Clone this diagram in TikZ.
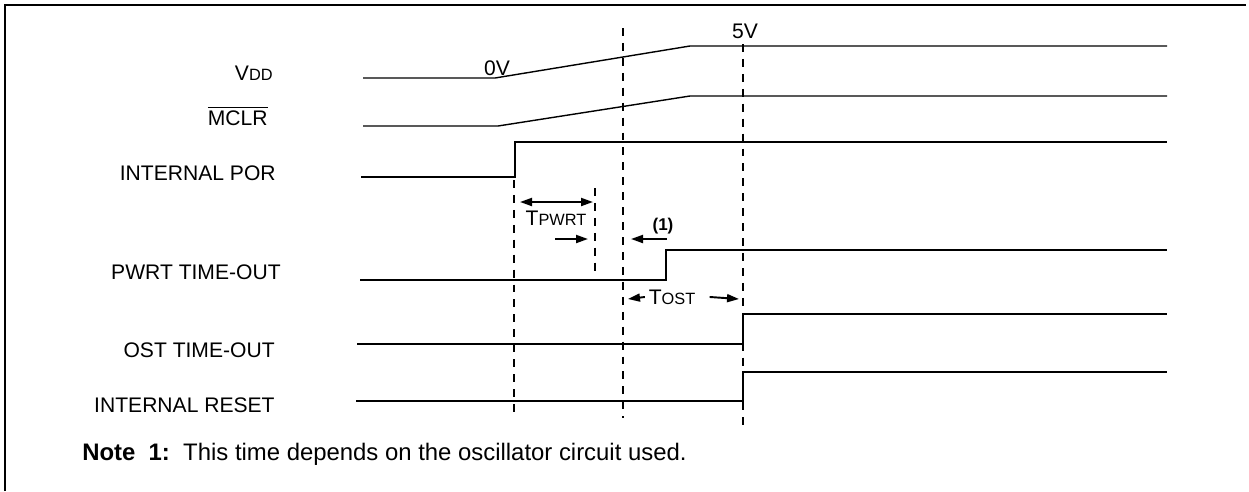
\documentclass[tikz,border=0pt]{standalone}
\usepackage{fontspec}
\setmainfont{Liberation Sans}
\usetikzlibrary{arrows.meta}
\tikzset{
  frame/.style={line width=1.4pt},
  sig/.style={line width=1.1pt,line join=miter},
  ramp/.style={line width=0.8pt},
  marker/.style={line width=1.2pt,dash pattern=on 4.5pt off 4pt},
  lbl/.style={font=\fontsize{12}{14}\selectfont,anchor=base east,inner sep=0pt},
  txt/.style={font=\fontsize{12}{14}\selectfont,anchor=base,inner sep=0pt},
  arr/.style={-{Triangle[length=2.4mm,width=1.6mm]},line width=1.1pt},
  dbl/.style={{Triangle[length=2.4mm,width=1.6mm]}-{Triangle[length=2.4mm,width=1.6mm]},line width=1.1pt}
}
\newcommand{\sml}[1]{{\fontsize{9.3}{11}\selectfont #1}}

\begin{document}
\begin{tikzpicture}[x=0.02cm,y=-0.02cm]
\path[use as bounding box] (0,0) rectangle (1249,491);
\draw[frame] (5,491) -- (5,5) -- (1246,5);

% signal names
\node[lbl] (vdd)  at (273,80)  {V\sml{DD}};
\node[lbl] (mclr) at (268,125) {$\overline{\mbox{MCLR}}$};
\node[lbl] (por)  at (276,180) {INTERNAL POR};
\node[lbl] (pwrt) at (281,279) {PWRT TIME-OUT};
\node[lbl] (ost)  at (275,357) {OST TIME-OUT};
\node[lbl] (rst)  at (275,412) {INTERNAL RESET};

% supply ramps
\draw[ramp] (363,78) -- (495,78) -- (690,46) -- (1167,46);
\draw[ramp] (363,126) -- (498,126) -- (690,96) -- (1167,96);
\node[txt] (zero) at (497,75) {0V};
\node[txt] (five) at (745,38) {5V};

% digital waveforms
\foreach \y/\xa/\xr/\hy in {177/361/515/142, 280/360/666/250, 344/357/743/314, 401/356/743/372}
  \draw[sig] (\xa,\y) -- (\xr,\y) -- (\xr,\hy) -- (1167,\hy);

% timing markers
\draw[marker] (514,180) -- (514,418);
\draw[marker] (623,28) -- (623,418);
\draw[marker] (743,44) -- (743,428);
\draw[marker] (595,188) -- (595,273);

% Tpwrt
\coordinate (pwA) at (520,202);
\coordinate (pwB) at (593,202);
\draw[dbl] (pwA) -- (pwB);
\node[txt] (tpw) at (556,225) {T\sml{PWRT}};
\coordinate (inA) at (555,239);
\coordinate (inB) at (588,239);
\draw[arr] (inA) -- (inB);

% note 1 mark
\node[txt,font=\bfseries\fontsize{9.7}{11}\selectfont] (nt) at (663,230) {(1)};
\coordinate (n1A) at (667,239);
\coordinate (n1B) at (631,239);
\draw[arr] (n1A) -- (n1B);

% Tost
\node[txt] (tost) at (672,304) {T\sml{OST}};
\coordinate (toA) at (628,299);
\coordinate (toB) at (739,299);
\draw[arr] ([xshift=-2pt,yshift=4pt]tost.base west) -- (toA);
\draw[arr] ([xshift=8pt,yshift=4pt]tost.base east) -- (toB);

\node[txt,anchor=base west,font=\fontsize{13.6}{16}\selectfont] (note) at (82,460) {\textbf{Note\ \ 1:}\ \ This time depends on the oscillator circuit used.};
\end{tikzpicture}
\end{document}
